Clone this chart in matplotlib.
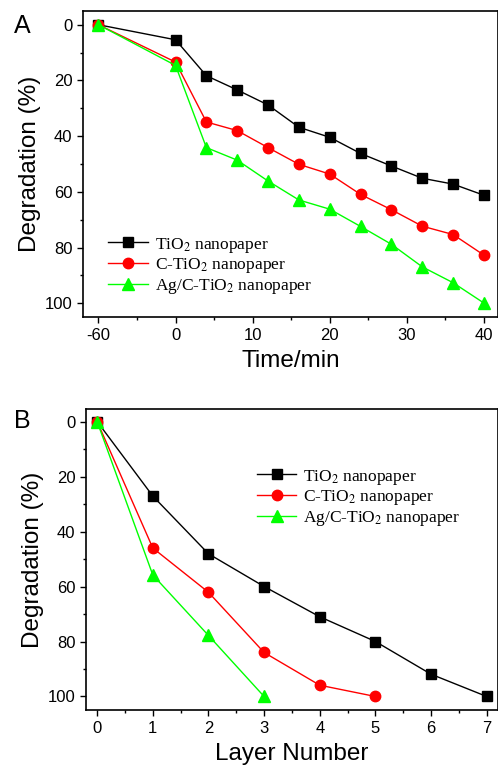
import numpy as np
import matplotlib.pyplot as plt
from matplotlib.ticker import FixedLocator, MultipleLocator

plt.rcParams['font.family'] = ['Liberation Sans', 'DejaVu Sans']
plt.rcParams['mathtext.fontset'] = 'stix'

# ---- panel A data: degradation vs time ----
time_min = np.array([-60, 0, 4, 8, 12, 16, 20, 24, 28, 32, 36, 40])
tio2_a = [0, 5.4, 18.3, 23.4, 28.8, 36.8, 40.4, 46.2, 50.7, 55.1, 57.2, 61.2]
ctio2_a = [0, 13.4, 34.9, 38.0, 44.1, 50.1, 53.6, 60.9, 66.4, 72.3, 75.3, 82.7]
agctio2_a = [0, 14.6, 44.1, 48.6, 56.1, 62.9, 66.2, 72.4, 78.8, 86.9, 92.6, 99.9]
time_ticks = [-60, 0, 10, 20, 30, 40]

# ---- panel B data: degradation vs layer number ----
layers_tio2 = [0, 1, 2, 3, 4, 5, 6, 7]
tio2_b = [0, 27.1, 48.1, 60.0, 71.0, 80.0, 91.9, 100]
layers_ctio2 = [0, 1, 2, 3, 4, 5]
ctio2_b = [0, 46.0, 62.1, 84.0, 95.9, 100]
layers_ag = [0, 1, 2, 3]
agctio2_b = [0, 55.8, 77.8, 100]

labels = [r'TiO$_2$ nanopaper', r'C-TiO$_2$ nanopaper', r'Ag/C-TiO$_2$ nanopaper']
colors = ['black', '#ff0000', '#00ff00']
markers = ['s', 'o', '^']
msizes = [7, 7.5, 8]


# the -60 min point sits one major step before 0 (broken axis style)
def tpos(t):
    t = np.asarray(t, dtype=float)
    return np.where(t == -60, -10, t)


fig = plt.figure(figsize=(4.98, 7.72), dpi=100)
axA = fig.add_axes([0.1667, 0.589, 0.833, 0.397])
axB = fig.add_axes([0.1727, 0.080, 0.827, 0.390])


def style(ax):
    ax.tick_params(which='both', direction='out', labelsize=12, width=1.0,
                   top=False, right=False)
    ax.tick_params(which='major', length=4)
    ax.tick_params(which='minor', length=2.5)
    for s in ax.spines.values():
        s.set_linewidth(1.2)
    ax.yaxis.set_major_locator(MultipleLocator(20))
    ax.yaxis.set_minor_locator(MultipleLocator(10))
    ax.set_ylabel('Degradation (%)', fontsize=17.5, labelpad=3)


leg_kw = dict(loc='upper left', frameon=False,
              prop={'family': 'Liberation Serif', 'size': 12.5},
              handlelength=2.3, handletextpad=0.4, labelspacing=0.1, borderpad=0)

# ---- panel A ----
for vals, lab, c, m, ms in zip([tio2_a, ctio2_a, agctio2_a], labels, colors, markers, msizes):
    axA.plot(tpos(time_min), vals, color=c, marker=m, markersize=ms, lw=1.0, label=lab)
axA.set_xlim(-12, 41.8)
axA.set_ylim(105, -5)
axA.xaxis.set_major_locator(FixedLocator(tpos(time_ticks)))
axA.set_xticklabels([str(t) for t in time_ticks])
axA.xaxis.set_minor_locator(FixedLocator([-5, 5, 15, 25, 35]))
style(axA)
axA.set_xlabel('Time/min', fontsize=17.5, labelpad=5)
axA.legend(bbox_to_anchor=(0.04, 0.295), **leg_kw)
fig.text(0.028, 0.957, 'A', fontsize=18)

# ---- panel B ----
for xs, vals, lab, c, m, ms in zip([layers_tio2, layers_ctio2, layers_ag],
                                   [tio2_b, ctio2_b, agctio2_b], labels, colors, markers, msizes):
    axB.plot(xs, vals, color=c, marker=m, markersize=ms, lw=1.0, label=lab)
axB.set_xlim(-0.2, 7.2)
axB.set_ylim(105, -4.5)
axB.xaxis.set_major_locator(MultipleLocator(1))
axB.xaxis.set_minor_locator(MultipleLocator(0.5))
style(axB)
axB.set_xlabel('Layer Number', fontsize=17.5, labelpad=5)
axB.legend(bbox_to_anchor=(0.393, 0.835), **leg_kw)
fig.text(0.028, 0.445, 'B', fontsize=18)

fig.savefig('out.png', dpi=100)
